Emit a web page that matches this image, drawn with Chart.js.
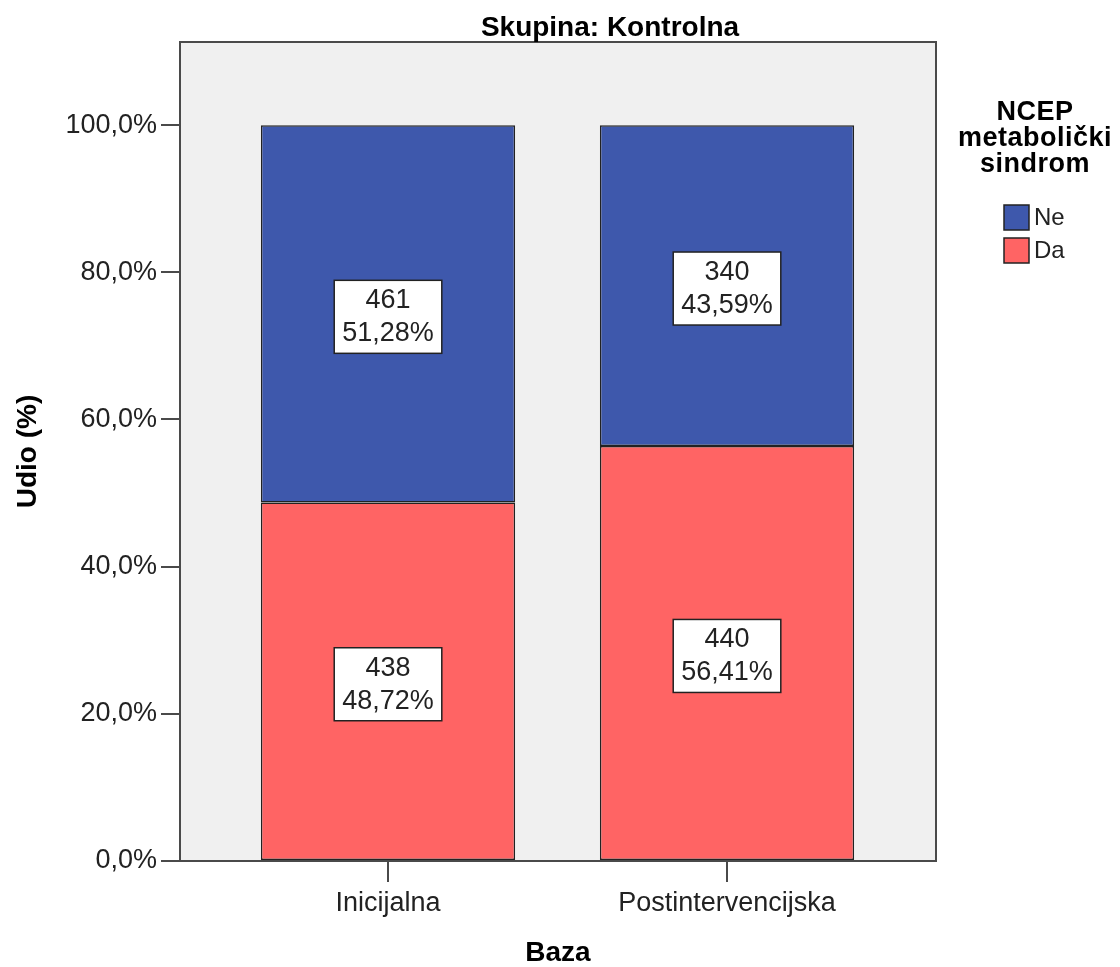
<!DOCTYPE html>
<html>
<head>
<meta charset="utf-8">
<script src="https://cdn.jsdelivr.net/npm/chart.js@4"></script>
<style>
  body { margin: 0; background: #fff; }
  #chart { display: block; }
</style>
</head>
<body>
<canvas id="chart" width="1120" height="967"></canvas>
<script>
// podaci s grafa
const categories = ["Inicijalna", "Postintervencijska"];
const seriesNames = ["Ne", "Da"];
const neCounts = [461, 340];
const daCounts = [438, 440];
const nePercent = [51.28, 43.59];
const daPercent = [48.72, 56.41];
const yTicks = [0, 20, 40, 60, 80, 100];

const chartTitle = "Skupina: Kontrolna";
const legendTitle = ["NCEP", "metabolički", "sindrom"];

const blue = "#3e58ac";
const red = "#ff6464";
const frameColor = "#4a4a4a";
const fontFamily = "'Liberation Sans', Arial, sans-serif";

// format broja s decimalnim zarezom
function fmtPct(v, d) {
  return v.toFixed(d).replace(".", ",") + "%";
}

// pozadina i okvir podrucja grafa
const plotFrame = {
  id: "plotFrame",
  beforeDatasetsDraw(chart) {
    const { ctx, chartArea: a } = chart;
    ctx.save();
    ctx.fillStyle = "#f0f0f0";
    ctx.fillRect(a.left, a.top, a.right - a.left, a.bottom - a.top);
    ctx.restore();
  },
  afterDatasetsDraw(chart) {
    const { ctx, chartArea: a } = chart;
    ctx.save();
    ctx.strokeStyle = frameColor;
    ctx.lineWidth = 2;
    ctx.strokeRect(a.left, a.top, a.right - a.left, a.bottom - a.top);
    ctx.restore();
  }
};

// oznake s brojem i postotkom unutar segmenata
const boxLabels = {
  id: "boxLabels",
  afterDatasetsDraw(chart) {
    const { ctx } = chart;
    ctx.save();
    ctx.font = "27px " + fontFamily;
    ctx.textAlign = "center";
    ctx.textBaseline = "middle";
    chart.data.datasets.forEach((ds, di) => {
      const meta = chart.getDatasetMeta(di);
      meta.data.forEach((bar, i) => {
        const lines = [String(ds.counts[i]), fmtPct(ds.data[i].y, 2)];
        const w = Math.max(...lines.map(t => ctx.measureText(t).width)) + 16;
        const h = 73;
        const cx = bar.x;
        const cy = (bar.y + bar.base) / 2 + 3;
        ctx.fillStyle = "#fff";
        ctx.fillRect(cx - w / 2, cy - h / 2, w, h);
        ctx.strokeStyle = "#222";
        ctx.lineWidth = 1.5;
        ctx.strokeRect(cx - w / 2, cy - h / 2, w, h);
        ctx.fillStyle = "#222";
        ctx.fillText(lines[0], cx, cy - 16);
        ctx.fillText(lines[1], cx, cy + 17);
      });
    });
    ctx.restore();
  }
};

// naslov i legenda desno
const titleAndLegend = {
  id: "titleAndLegend",
  afterDraw(chart) {
    const { ctx } = chart;
    ctx.save();
    ctx.fillStyle = "#000";
    ctx.textBaseline = "middle";
    ctx.textAlign = "center";
    ctx.font = "bold 28px " + fontFamily;
    ctx.fillText(chartTitle, 610, 28);

    ctx.font = "bold 27px " + fontFamily;
    ctx.letterSpacing = "0.5px";
    legendTitle.forEach((t, i) => ctx.fillText(t, 1035, 113 + i * 26));
    ctx.letterSpacing = "0px";

    const colors = [blue, red];
    ctx.textAlign = "left";
    ctx.font = "24px " + fontFamily;
    seriesNames.forEach((name, i) => {
      const y = 205 + i * 33;
      ctx.fillStyle = colors[i];
      ctx.fillRect(1004, y, 25, 25);
      ctx.strokeStyle = "#222";
      ctx.lineWidth = 1.5;
      ctx.strokeRect(1004, y, 25, 25);
      ctx.fillStyle = "#222";
      ctx.fillText(name, 1034, y + 13);
    });
    ctx.restore();
  }
};

const daSet = {
  label: seriesNames[1],
  data: daPercent.map((v, i) => ({ x: i, y: v })),
  counts: daCounts,
  backgroundColor: red
};
const neSet = {
  label: seriesNames[0],
  data: nePercent.map((v, i) => ({ x: i, y: v })),
  counts: neCounts,
  backgroundColor: blue
};

new Chart(document.getElementById("chart"), {
  type: "bar",
  data: {
    datasets: [daSet, neSet].map(ds => Object.assign(ds, {
      borderColor: "#222",
      borderWidth: 1.5,
      borderSkipped: false,
      barPercentage: 0.75,
      categoryPercentage: 1
    }))
  },
  options: {
    responsive: false,
    animation: false,
    events: [],
    layout: { padding: { top: 42, right: 184, bottom: 0, left: 0 } },
    plugins: {
      legend: { display: false },
      tooltip: { enabled: false }
    },
    scales: {
      x: {
        type: "linear",
        stacked: true,
        offset: false,
        min: -0.6136,
        max: 1.6165,
        afterFit(scale) { scale.height = 106; },
        afterBuildTicks(scale) {
          scale.ticks = categories.map((_, i) => ({ value: i }));
        },
        ticks: {
          callback: v => categories[v],
          font: { size: 27, family: fontFamily },
          color: "#222",
          padding: 5,
          maxRotation: 0,
          autoSkip: false
        },
        grid: { offset: false, drawOnChartArea: false, tickLength: 21, color: frameColor, lineWidth: 2 },
        border: { color: frameColor, width: 2 },
        title: {
          display: true,
          text: "Baza",
          font: { size: 28, weight: "bold", family: fontFamily },
          color: "#000",
          padding: { top: 0, bottom: -3 }
        }
      },
      y: {
        stacked: true,
        min: 0,
        max: 111.3,
        afterFit(scale) { scale.width = 180; },
        afterBuildTicks(scale) {
          scale.ticks = yTicks.map(v => ({ value: v }));
        },
        ticks: {
          callback: v => fmtPct(v, 1),
          font: { size: 27, family: fontFamily },
          color: "#222",
          padding: 4
        },
        grid: { drawOnChartArea: false, tickLength: 19, color: frameColor, lineWidth: 2 },
        border: { color: frameColor, width: 2 },
        title: {
          display: true,
          text: "Udio (%)",
          font: { size: 28, weight: "bold", family: fontFamily },
          color: "#000",
          padding: { top: 11, bottom: 0 }
        }
      }
    }
  },
  plugins: [plotFrame, boxLabels, titleAndLegend]
});
</script>
</body>
</html>
